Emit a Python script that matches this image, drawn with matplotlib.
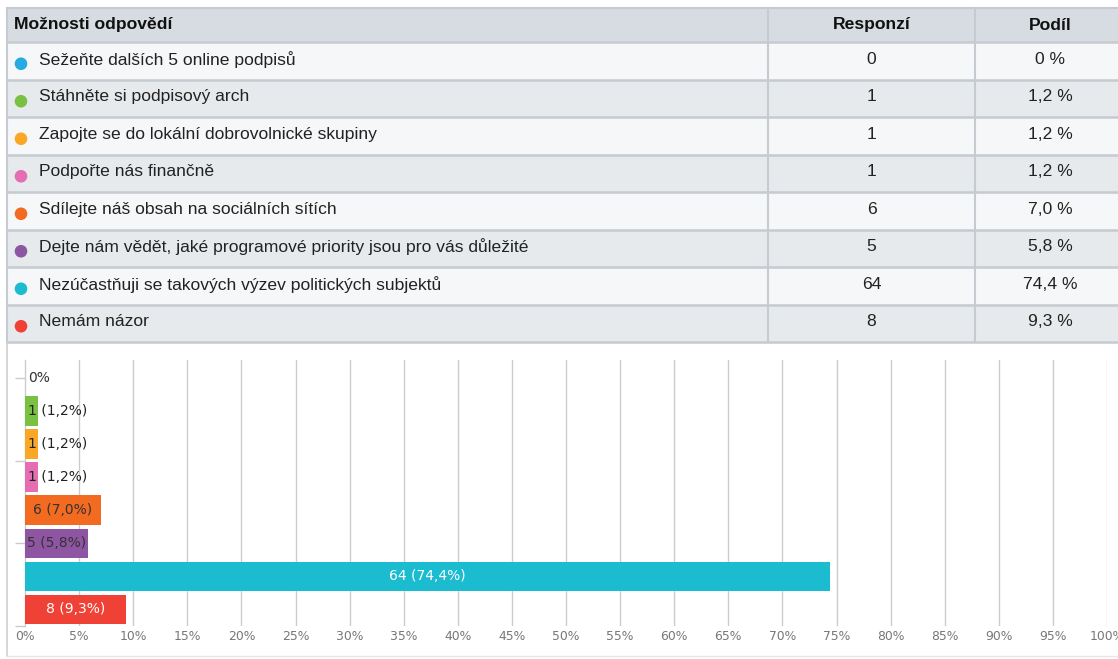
import matplotlib
matplotlib.use("Agg")
import matplotlib.pyplot as plt
from matplotlib.patches import Rectangle, Circle

# Survey answers, counts and shares
options = [
    "Sežeňte dalších 5 online podpisů",
    "Stáhněte si podpisový arch",
    "Zapojte se do lokální dobrovolnické skupiny",
    "Podpořte nás finančně",
    "Sdílejte náš obsah na sociálních sítích",
    "Dejte nám vědět, jaké programové priority jsou pro vás důležité",
    "Nezúčastňuji se takových výzev politických subjektů",
    "Nemám názor",
]
responses = [0, 1, 1, 1, 6, 5, 64, 8]
shares = [0.0, 1.2, 1.2, 1.2, 7.0, 5.8, 74.4, 9.3]
colors = ["#27a9e1", "#7ac143", "#f9a825", "#e56db1",
          "#f26b21", "#8e55a3", "#1bbccf", "#ef4136"]
label_colors = ["#333333", "#222222", "#222222", "#222222",
                "#333333", "#333333", "#ffffff", "#ffffff"]
headers = ["Možnosti odpovědí", "Responzí", "Podíl"]
x_ticks = list(range(0, 101, 5))


def fmt(v):
    s = f"{v:.1f}".replace(".", ",")
    return "0" if v == 0 else s


W, H = 1118, 659
fig = plt.figure(figsize=(W / 100, H / 100), dpi=100)
fig.patch.set_facecolor("white")

# ---- table drawn in pixel coordinates ----
bg = fig.add_axes([0, 0, 1, 1])
bg.set_xlim(0, W)
bg.set_ylim(H, 0)
bg.axis("off")

tfont = ["Liberation Sans", "DejaVu Sans"]
tsize = 12.6
left, right = 7, 1135
col1, col2 = 768, 975
top, head_h, row_h = 8, 34, 37.5
line_c = "#c5cbd1"

bg.add_patch(Rectangle((left, top), right - left, head_h, fc="#d6dce1", ec="none"))
for i in range(len(options)):
    y0 = top + head_h + i * row_h
    fc = "#f6f7f8" if i % 2 == 0 else "#e7eaed"
    bg.add_patch(Rectangle((left, y0), right - left, row_h, fc=fc, ec="none"))

# grid lines of the table
bg.plot([left, right], [top, top], color=line_c, lw=1.5)
for i in range(len(options) + 1):
    y = top + head_h + i * row_h
    bg.plot([left, right], [y, y], color=line_c, lw=1.8)
table_bottom = top + head_h + len(options) * row_h
for x in (left, col1, col2):
    bg.plot([x, x], [top, table_bottom], color=line_c, lw=1.5)

hy = top + head_h / 2
bg.text(14, hy, headers[0], fontsize=tsize, fontweight="bold", family=tfont,
        ha="left", va="center", color="#111111")
bg.text((col1 + col2) / 2, hy, headers[1], fontsize=tsize, fontweight="bold",
        family=tfont, ha="center", va="center", color="#111111")
bg.text((col2 + right) / 2 - 5, hy, headers[2], fontsize=tsize, fontweight="bold",
        family=tfont, ha="center", va="center", color="#111111")

for i, (opt, n, p) in enumerate(zip(options, responses, shares)):
    cy = top + head_h + (i + 0.5) * row_h
    bg.add_patch(Circle((21, cy + 3), 6.3, fc=colors[i], ec="none"))
    bg.text(39, cy - 1.5, opt, fontsize=tsize, family=tfont,
            ha="left", va="center", color="#222222")
    bg.text((col1 + col2) / 2, cy - 1.5, str(n), fontsize=tsize, family=tfont,
            ha="center", va="center", color="#222222")
    bg.text((col2 + right) / 2 - 5, cy - 1.5, f"{fmt(p)} %", fontsize=tsize,
            family=tfont, ha="center", va="center", color="#222222")

# frame around the chart
bg.plot([left, left], [table_bottom, 656], color="#d0d0d0", lw=1.2)
bg.plot([left, right], [656, 656], color="#e6e6e6", lw=1.0)

# ---- bar chart ----
px0, px1 = 25, 1107
py_top, py_bot = 360, 626
ax = fig.add_axes([px0 / W, (H - py_bot) / H, (px1 - px0) / W, (py_bot - py_top) / H])
ax.set_facecolor("none")
ypos = list(range(len(options)))
ax.barh(ypos, shares, height=0.9, color=colors, zorder=3)
ax.set_xlim(0, 100)
ax.set_ylim(len(options) - 0.5, -0.55)

for x in x_ticks[1:]:
    ax.axvline(x, color="#cccccc", lw=1.0, zorder=1)

for spine in ("top", "right", "bottom"):
    ax.spines[spine].set_visible(False)
ax.spines["left"].set_color("#cccccc")
ax.spines["left"].set_linewidth(1.0)

ax.set_xticks(x_ticks)
ax.set_xticklabels([f"{t}%" for t in x_ticks], fontsize=8.9, color="#777777",
                   family="DejaVu Sans")
ax.tick_params(axis="x", length=0, pad=3)
ax.set_yticks([0, 2.5, 5, 7.5])
ax.set_yticklabels([])
ax.tick_params(axis="y", length=7, color="#cccccc", width=1.0)

for i, (n, p) in enumerate(zip(responses, shares)):
    txt = "0%" if n == 0 else f"{n} ({fmt(p)}%)"
    if p >= 5:
        ax.text(p / 2, i, txt, ha="center", va="center", fontsize=10,
                color=label_colors[i], zorder=4, family="DejaVu Sans")
    else:
        ax.text(0.3, i, txt, ha="left", va="center", fontsize=10,
                color=label_colors[i], zorder=4, family="DejaVu Sans")

fig.savefig("out.png", dpi=100)
